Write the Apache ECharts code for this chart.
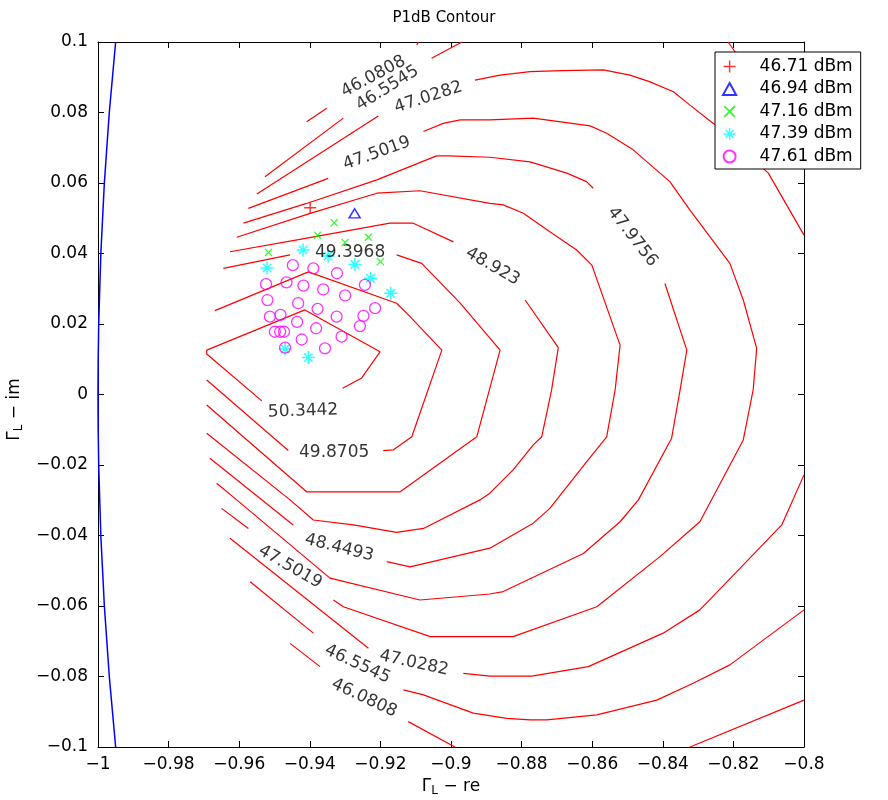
<!DOCTYPE html>
<html><head><meta charset="utf-8">
<script src="https://cdn.jsdelivr.net/npm/echarts/dist/echarts.min.js"></script>
<style>html,body{margin:0;padding:0;background:#fff}#c{width:888px;height:800px}</style>
</head><body><div id="c"></div>
<script>
// ---------- axis ticks ----------
const xTicks = [-1, -0.98, -0.96, -0.94, -0.92, -0.9, -0.88, -0.86, -0.84, -0.82, -0.8];
const yTicks = [-0.1, -0.08, -0.06, -0.04, -0.02, 0, 0.02, 0.04, 0.06, 0.08, 0.1];

// ---------- unit circle edge (blue) ----------
const circleY = [0.1, 0.09, 0.08, 0.07, 0.06, 0.05, 0.04, 0.03, 0.02, 0.01, 0, -0.01, -0.02, -0.03, -0.04, -0.05, -0.06, -0.07, -0.08, -0.09, -0.1];
const circleX = [-0.9950, -0.9959, -0.9968, -0.9975, -0.9982, -0.9987, -0.9992, -0.9995, -0.9998, -0.99995, -1, -0.99995, -0.9998, -0.9995, -0.9992, -0.9987, -0.9982, -0.9975, -0.9968, -0.9959, -0.9950];

// ---------- contour levels (segments of [x, y]) ----------
const lv46_0808 = [
  [[-0.9409, 0.0774], [-0.9352, 0.0812]],
  [[-0.9097, 0.0992], [-0.9092, 0.1]],
  [[-0.9456, -0.0706], [-0.9371, -0.0772]],
  [[-0.9121, -0.0928], [-0.8989, -0.1]],
  [[-0.8323, -0.1], [-0.8, -0.0867]]
];
const lv46_5545 = [
  [[-0.9527, 0.0618], [-0.9305, 0.0784]],
  [[-0.9055, 0.0954], [-0.8969, 0.1]],
  [[-0.8215, 0.1], [-0.8110, 0.0850], [-0.8, 0.0694]],
  [[-0.9569, -0.0531], [-0.9390, -0.0677]],
  [[-0.9135, -0.0838], [-0.9078, -0.0852], [-0.8937, -0.0904], [-0.8842, -0.0919], [-0.8776, -0.0923], [-0.8729, -0.0923], [-0.8587, -0.0909], [-0.8417, -0.0867], [-0.8314, -0.0819], [-0.8210, -0.0767], [-0.8, -0.0611]]
];
const lv47_0282 = [
  [[-0.9550, 0.0569], [-0.9206, 0.0790]],
  [[-0.8932, 0.0892], [-0.8861, 0.0906], [-0.8776, 0.0916], [-0.8686, 0.0919], [-0.8569, 0.0921], [-0.8493, 0.0906], [-0.8436, 0.0887], [-0.8370, 0.0859], [-0.8323, 0.0821], [-0.8257, 0.0769], [-0.8101, 0.0628], [-0.8, 0.0452]],
  [[-0.8, -0.0228], [-0.8063, -0.0370], [-0.8191, -0.0503], [-0.8295, -0.0611], [-0.8399, -0.0677], [-0.8611, -0.0772], [-0.8771, -0.0799], [-0.8890, -0.0799], [-0.8965, -0.0791]],
  [[-0.9234, -0.0720], [-0.9626, -0.0408]]
];
const lv47_5019 = [
  [[-0.9574, 0.0528], [-0.9348, 0.0613]],
  [[-0.9078, 0.0746], [-0.9022, 0.0769], [-0.8974, 0.0779], [-0.8890, 0.0779], [-0.8767, 0.0784], [-0.8606, 0.0762], [-0.8559, 0.0741], [-0.8484, 0.0694], [-0.8380, 0.0604], [-0.8323, 0.0523], [-0.8210, 0.0372], [-0.8172, 0.0268], [-0.8134, 0.0131], [-0.8144, 0.0013], [-0.8172, -0.0129], [-0.8295, -0.0361], [-0.8408, -0.0460], [-0.8587, -0.0602], [-0.8824, -0.0687], [-0.8890, -0.0687], [-0.9059, -0.0687], [-0.9305, -0.0602], [-0.9333, -0.0583]],
  [[-0.9574, -0.0380], [-0.9650, -0.0323]]
];
const lv47_9756 = [
  [[-0.9588, 0.0486], [-0.9409, 0.0542], [-0.9210, 0.0609], [-0.9041, 0.0677], [-0.9008, 0.0677], [-0.8890, 0.0673], [-0.8776, 0.0660], [-0.8672, 0.0628], [-0.8616, 0.0604], [-0.8597, 0.0585]],
  [[-0.8394, 0.0315], [-0.8332, 0.0126], [-0.8351, 0.0013], [-0.8375, -0.0124], [-0.8469, -0.0299], [-0.8521, -0.0361], [-0.8625, -0.0451], [-0.8852, -0.0559], [-0.8890, -0.0566], [-0.9088, -0.0583], [-0.9343, -0.0521], [-0.9607, -0.0299], [-0.9664, -0.0252]]
];
const lv48_4493 = [
  [[-0.9607, 0.0446], [-0.9399, 0.0514], [-0.9210, 0.0571], [-0.9088, 0.0578], [-0.8890, 0.0542], [-0.8852, 0.0538], [-0.8795, 0.0514], [-0.8720, 0.0462], [-0.8644, 0.0410], [-0.8601, 0.0367], [-0.8521, 0.0140], [-0.8535, 0.0013], [-0.8559, -0.0120], [-0.8616, -0.0191], [-0.8720, -0.0323], [-0.8767, -0.0365], [-0.8890, -0.0436], [-0.9116, -0.0489], [-0.9182, -0.0474]],
  [[-0.9447, -0.0370], [-0.9683, -0.0181]]
];
const lv48_923 = [
  [[-0.9626, 0.0405], [-0.9428, 0.0440], [-0.9173, 0.0486], [-0.9107, 0.0486], [-0.8993, 0.0433]],
  [[-0.8790, 0.0268], [-0.8696, 0.0133], [-0.8715, 0.0013], [-0.8743, -0.0120], [-0.8767, -0.0143], [-0.8824, -0.0214], [-0.8890, -0.0280], [-0.8918, -0.0299], [-0.9078, -0.0380], [-0.9154, -0.0391], [-0.9277, -0.0370], [-0.9390, -0.0356], [-0.9456, -0.0299], [-0.9692, -0.0110]]
];
const lv49_3968 = [
  [[-0.9645, 0.0358], [-0.9456, 0.0396]],
  [[-0.9154, 0.0396], [-0.9083, 0.0372], [-0.8974, 0.0259], [-0.8861, 0.0126], [-0.8927, -0.0120], [-0.9144, -0.0276], [-0.9409, -0.0276], [-0.9692, -0.0030]]
];
const lv49_8705 = [
  [[-0.9669, 0.0238], [-0.9404, 0.0348], [-0.9154, 0.0259], [-0.9116, 0.0221], [-0.9026, 0.0126], [-0.9111, -0.0120], [-0.9163, -0.0157], [-0.9192, -0.0159]],
  [[-0.9461, -0.0159], [-0.9692, 0.0041]]
];
const lv50_3442 = [
  [[-0.9536, -0.0018], [-0.9692, 0.0115], [-0.9692, 0.0126], [-0.9414, 0.0240], [-0.9201, 0.0121], [-0.9253, 0.0047], [-0.9307, 0.0018]]
];
const contourLevels = [lv46_0808, lv46_5545, lv47_0282, lv47_5019, lv47_9756, lv48_4493, lv48_923, lv49_3968, lv49_8705, lv50_3442];

// ---------- contour labels ----------
const labelText = ['46.0808', '46.5545', '47.0282', '47.5019', '47.9756', '48.923', '49.3968', '49.8705', '50.3442', '48.4493', '47.5019', '47.0282', '46.5545', '46.0808'];
const labelX = [-0.9220, -0.9180, -0.9064, -0.9210, -0.8486, -0.8882, -0.9286, -0.9331, -0.9419, -0.9317, -0.9456, -0.9105, -0.9265, -0.9246];
const labelY = [0.0902, 0.0869, 0.0843, 0.0684, 0.0447, 0.0363, 0.0404, -0.0166, -0.0047, -0.0435, -0.0489, -0.0762, -0.0765, -0.0861];
const labelRot = [28, 32, 18, 20, -52, -30, 0, 0, 2, -14, -30, -12, -25, -25];

// ---------- measured points ----------
const seriesNames = ['46.71 dBm', '46.94 dBm', '47.16 dBm', '47.39 dBm', '47.61 dBm'];
const plusX = [-0.9399];
const plusY = [0.0530];
const triX = [-0.9273];
const triY = [0.0514];
const xMarkX = [-0.9331, -0.9378, -0.9234, -0.9300, -0.9517, -0.9200];
const xMarkY = [0.0487, 0.0452, 0.0446, 0.0431, 0.0403, 0.0377];
const starX = [-0.9419, -0.9521, -0.9348, -0.9272, -0.9228, -0.9171, -0.9470, -0.9404];
const starY = [0.0410, 0.0359, 0.0393, 0.0369, 0.0330, 0.0287, 0.0129, 0.0105];
const ringX = [-0.9448, -0.9390, -0.9323, -0.9524, -0.9466, -0.9418, -0.9362, -0.9300, -0.9244, -0.9520, -0.9433, -0.9378, -0.9324, -0.9215, -0.9248, -0.9513, -0.9483, -0.9436, -0.9382, -0.9310, -0.9258, -0.9499, -0.9484, -0.9473, -0.9423, -0.9470, -0.9357];
const ringY = [0.0367, 0.0358, 0.0344, 0.0313, 0.0318, 0.0309, 0.0298, 0.0281, 0.0311, 0.0268, 0.0259, 0.0243, 0.0221, 0.0245, 0.0223, 0.0221, 0.0226, 0.0206, 0.0188, 0.0164, 0.0194, 0.0178, 0.0178, 0.0178, 0.0156, 0.0133, 0.0131];

// ---------- build ----------
const FONT = 'DejaVu Sans';
const zip = (a, b) => a.map((v, i) => [v, b[i]]);
const minus = v => String(+v.toFixed(2)).replace('-', '\u2212');

const plusPath = 'path://M4.4,0H5.6V4.4H10V5.6H5.6V10H4.4V5.6H0V4.4H4.4Z';
const triPath = 'path://M5.5,0L11,10L0,10Z';
const xPath = 'path://M2.17,1.33L8.67,7.83L7.83,8.67L1.33,2.17Z M7.83,1.33L8.67,2.17L2.17,8.67L1.33,7.83Z';
const starPath = 'path://M4.4,0H5.6V10H4.4Z M0,4.4H10V5.6H0Z M2.17,1.33L8.67,7.83L7.83,8.67L1.33,2.17Z M7.83,1.33L8.67,2.17L2.17,8.67L1.33,7.83Z';

const series = [];
series.push({
  type: 'line', data: zip(circleX, circleY), symbol: 'none', silent: true,
  lineStyle: { color: '#0000ff', width: 1.5 }, z: 2, animation: false
});
contourLevels.forEach(level => level.forEach(seg => series.push({
  type: 'line', data: seg, symbol: 'none', silent: true,
  lineStyle: { color: '#ff0000', width: 1.2 }, z: 2, animation: false
})));
series.push({ name: seriesNames[0], type: 'scatter', data: zip(plusX, plusY), symbol: plusPath, symbolSize: 12, itemStyle: { color: '#ff0000' }, z: 3, animation: false });
series.push({ name: seriesNames[1], type: 'scatter', data: zip(triX, triY), symbol: triPath, symbolSize: [11, 10], symbolKeepAspect: true, itemStyle: { color: 'rgba(0,0,0,0)', borderColor: '#0000ff', borderWidth: 1.5 }, z: 3, animation: false });
series.push({ name: seriesNames[2], type: 'scatter', data: zip(xMarkX, xMarkY), symbol: xPath, symbolSize: 8, itemStyle: { color: '#00ff00' }, z: 3, animation: false });
series.push({ name: seriesNames[3], type: 'scatter', data: zip(starX, starY), symbol: starPath, symbolSize: 13, itemStyle: { color: '#00ffff' }, z: 3, animation: false });
series.push({ name: seriesNames[4], type: 'scatter', data: zip(ringX, ringY), symbol: 'circle', symbolSize: 11, itemStyle: { color: 'rgba(0,0,0,0)', borderColor: '#ff00ff', borderWidth: 1.3 }, z: 3, animation: false });
series.push({
  type: 'scatter', silent: true, symbolSize: 1, itemStyle: { color: 'rgba(0,0,0,0)' }, z: 5, animation: false,
  data: labelText.map((t, i) => ({ name: t, value: [labelX[i], labelY[i]], label: { rotate: labelRot[i] } })),
  label: { show: true, position: 'inside', formatter: '{b}', color: '#000', fontSize: 17, fontFamily: FONT, textBorderWidth: 0 }
});

const axisCommon = {
  type: 'value',
  axisLine: { show: true, onZero: false, lineStyle: { color: '#000', width: 1 } },
  axisTick: { show: true, inside: true, length: 6, lineStyle: { color: '#000', width: 1 } },
  splitLine: { show: false }
};
const labelStyle = { color: '#000', fontSize: 17, fontFamily: FONT, formatter: minus };

const chart = echarts.init(document.getElementById('c'), null, { renderer: 'canvas' });
chart.setOption({
  animation: false,
  backgroundColor: '#fff',
  title: { text: 'P1dB Contour', left: 'center', top: 6, textStyle: { color: '#000', fontSize: 15, fontWeight: 'normal', fontFamily: FONT } },
  grid: { left: 98, right: 84, top: 42, bottom: 53, outerBoundsMode: 'none' },
  legend: {
    data: seriesNames.map((n, i) => i === 1 ? { name: n, icon: triPath } : n),
    orient: 'vertical', left: 715, top: 52,
    itemWidth: 50, itemHeight: 12, itemGap: 5.5, symbolKeepAspect: true,
    padding: [6, 8, 4, 7],
    backgroundColor: '#fff', borderColor: '#000', borderWidth: 1,
    textStyle: { color: '#000', fontSize: 17, fontFamily: FONT },
    selectedMode: false, z: 10
  },
  xAxis: [
    Object.assign({}, axisCommon, {
      min: xTicks[0], max: xTicks[xTicks.length - 1], interval: 0.02, position: 'bottom',
      axisLabel: Object.assign({ margin: 9 }, labelStyle),
      name: '{g|\u0393}{s|L}{g| \u2212 re}', nameLocation: 'middle', nameGap: 26,
      nameTextStyle: { color: '#000', fontFamily: FONT, rich: { g: { fontSize: 17, fontFamily: FONT, color: '#000' }, s: { fontSize: 12, fontFamily: FONT, color: '#000', padding: [8, 0, 0, 0] } } }
    }),
    Object.assign({}, axisCommon, {
      min: xTicks[0], max: xTicks[xTicks.length - 1], interval: 0.02, position: 'top',
      axisLabel: { show: false }
    })
  ],
  yAxis: [
    Object.assign({}, axisCommon, {
      min: yTicks[0], max: yTicks[yTicks.length - 1], interval: 0.02, position: 'left',
      axisLabel: Object.assign({ margin: 10 }, labelStyle),
      name: '{g|\u0393}{s|L}{g| \u2212 im}', nameLocation: 'middle', nameGap: 64, nameRotate: 90,
      nameTextStyle: { color: '#000', fontFamily: FONT, padding: [0, 30, 0, 0], rich: { g: { fontSize: 17, fontFamily: FONT, color: '#000' }, s: { fontSize: 12, fontFamily: FONT, color: '#000', padding: [8, 0, 0, 0] } } }
    }),
    Object.assign({}, axisCommon, {
      min: yTicks[0], max: yTicks[yTicks.length - 1], interval: 0.02, position: 'right',
      axisLabel: { show: false }
    })
  ],
  series: series
});
</script>
</body></html>
